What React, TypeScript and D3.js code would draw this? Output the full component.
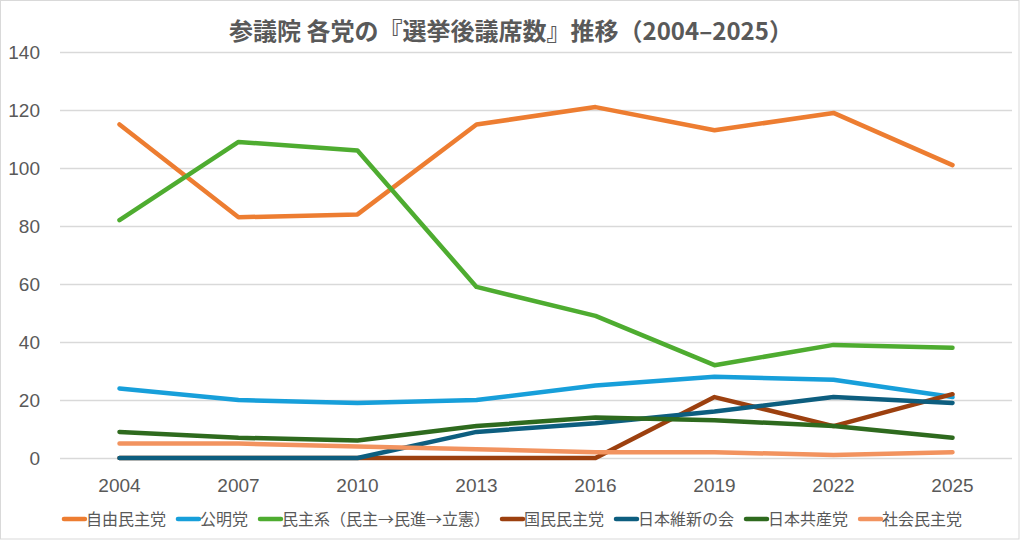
import React, { useEffect, useRef } from "react";
import * as d3 from "d3";

const years = ["2004", "2007", "2010", "2013", "2016", "2019", "2022", "2025"];
const yTicks = [0, 20, 40, 60, 80, 100, 120, 140];

const seriesNames = [
  "自由民主党",
  "公明党",
  "民主系（民主→民進→立憲）",
  "国民民主党",
  "日本維新の会",
  "日本共産党",
  "社会民主党",
];
const seriesColors = ["#ED7D31", "#179FDA", "#4EAC30", "#9C400F", "#0D5E7F", "#2E6A1E", "#F2935F"];

const ldp = [115, 83, 84, 115, 121, 113, 119, 101];
const komeito = [24, 20, 19, 20, 25, 28, 27, 21];
const democratic = [82, 109, 106, 59, 49, 32, 39, 38];
const dpfp = [0, 0, 0, 0, 0, 21, 11, 22];
const ishin = [0, 0, 0, 9, 12, 16, 21, 19];
const jcp = [9, 7, 6, 11, 14, 13, 11, 7];
const sdp = [5, 5, 4, 3, 2, 2, 1, 2];

const seriesValues = [ldp, komeito, democratic, dpfp, ishin, jcp, sdp];

const W = 1024;
const H = 541;
const FONT = "'Liberation Sans', 'Noto Sans CJK JP', sans-serif";
const CJK = "'Noto Sans CJK JP', 'Liberation Sans', sans-serif";
const TXT = "#595959";

export default function App() {
  const ref = useRef<SVGSVGElement>(null);

  useEffect(() => {
    const svg = d3.select(ref.current);
    svg.selectAll("*").remove();

    const x = d3.scalePoint<string>().domain(years).range([60, 1012]).padding(0.5);
    const y = d3.scaleLinear().domain([0, 140]).range([458, 52]);

    svg
      .append("rect")
      .attr("x", 0.5)
      .attr("y", 0.5)
      .attr("width", 1018.5)
      .attr("height", 538.5)
      .attr("fill", "#fff")
      .attr("stroke", "#D9D9D9");

    // title
    svg
      .append("text")
      .attr("x", 511)
      .attr("y", 40)
      .attr("text-anchor", "middle")
      .attr("font-family", CJK)
      .attr("font-weight", "bold")
      .attr("font-size", 24)
      .attr("fill", TXT)
      .text("参議院 各党の『選挙後議席数』推移（2004–2025）");

    // grid
    svg
      .append("g")
      .selectAll("line")
      .data(yTicks)
      .join("line")
      .attr("x1", 60)
      .attr("x2", 1012)
      .attr("y1", (d) => y(d) + 0.5)
      .attr("y2", (d) => y(d) + 0.5)
      .attr("stroke", "#D9D9D9")
      .attr("stroke-width", 1.3);

    svg
      .append("g")
      .selectAll("text")
      .data(yTicks)
      .join("text")
      .attr("x", 40)
      .attr("y", (d) => y(d) + 7)
      .attr("text-anchor", "end")
      .attr("font-family", FONT)
      .attr("font-size", 19)
      .attr("fill", TXT)
      .text((d) => String(d));

    svg
      .append("g")
      .selectAll("text")
      .data(years)
      .join("text")
      .attr("x", (d) => x(d) as number)
      .attr("y", 492)
      .attr("text-anchor", "middle")
      .attr("font-family", FONT)
      .attr("font-size", 19)
      .attr("fill", TXT)
      .text((d) => d);

    const line = d3
      .line<number>()
      .x((_, i) => x(years[i]) as number)
      .y((d) => y(d));

    seriesValues.forEach((vals, i) => {
      svg
        .append("path")
        .attr("d", line(vals))
        .attr("fill", "none")
        .attr("stroke", seriesColors[i])
        .attr("stroke-width", 4.5)
        .attr("stroke-linejoin", "round")
        .attr("stroke-linecap", "round");
    });

    // legend
    const lg = svg.append("g");
    let cx = 0;
    seriesNames.forEach((name, i) => {
      const g = lg.append("g").attr("transform", `translate(${cx},0)`);
      g.append("line")
        .attr("x1", 2)
        .attr("x2", 23)
        .attr("y1", 0)
        .attr("y2", 0)
        .attr("stroke", seriesColors[i])
        .attr("stroke-width", 4.5)
        .attr("stroke-linecap", "round");
      const t = g
        .append("text")
        .attr("x", 24)
        .attr("y", 6)
        .attr("font-family", CJK)
        .attr("font-size", 16)
        .attr("fill", TXT)
        .text(name);
      const tw = (t.node() as SVGTextElement).getComputedTextLength();
      cx += 24 + tw + 10;
    });
    const total = cx - 10;
    lg.attr("transform", `translate(${512 - total / 2},519)`);
  }, []);

  return (
    <svg
      ref={ref}
      width={W}
      height={H}
      style={{ position: "absolute", left: 0, top: 0, display: "block" }}
    />
  );
}
